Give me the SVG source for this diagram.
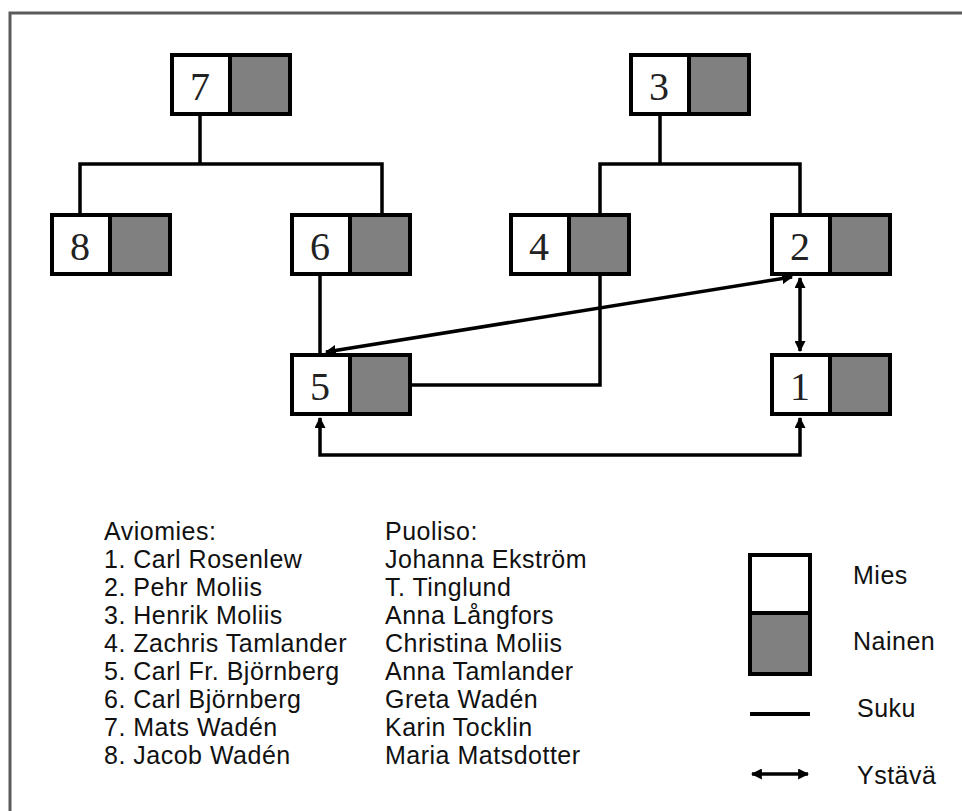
<svg xmlns="http://www.w3.org/2000/svg" width="962" height="811" viewBox="0 0 962 811">
<style>
.frame{fill:none;stroke:#5a5a5a;stroke-width:3}
.m{fill:#fff}
.f{fill:#808080}
.out{fill:none;stroke:#000;stroke-width:4}
.num{font-family:"Liberation Serif","Times New Roman",serif;font-size:40px;fill:#222;text-anchor:middle}
.kin{fill:none;stroke:#000;stroke-width:3.5}
.fr{fill:none;stroke:#000;stroke-width:3.5;marker-start:url(#ah);marker-end:url(#ah)}
.t{font-family:"Liberation Sans",Arial,sans-serif;font-size:25px;letter-spacing:0.5px;fill:#111}
</style>
<defs>
<marker id="ah" viewBox="0 0 10 10" refX="9" refY="5" markerWidth="11" markerHeight="11" markerUnits="userSpaceOnUse" orient="auto-start-reverse">
<path d="M0 0 L10 5 L0 10 Z" fill="#000"/>
</marker>
<g id="node">
<rect class="m" x="2" y="2" width="58" height="59"/>
<rect class="f" x="60" y="2" width="60" height="59"/>
<rect class="out" x="2" y="2" width="118" height="59"/>
<line x1="60" y1="2" x2="60" y2="61" stroke="#000" stroke-width="4"/>
</g>
</defs>
<rect width="962" height="811" fill="#fff"/>
<rect class="frame" x="10" y="13" width="1000" height="1000"/>

<g id="connectors">
<path class="kin" d="M200 116 V164 M80 213 V164 H382 V213"/>
<path class="kin" d="M660 116 V164 M600 213 V164 H800 V213"/>
<path class="kin" d="M320 276 V353"/>
<path class="kin" d="M600 276 V385 H412"/>
<path class="fr" d="M800 278 V351"/>
<path class="fr" d="M320 418 V455 H800 V418"/>
<path class="fr" d="M326 352 L792 277"/>
</g>

<g id="n7"><use href="#node" x="170" y="53"/><text class="num" x="200" y="100">7</text></g>
<g id="n3"><use href="#node" x="629" y="53"/><text class="num" x="659" y="100">3</text></g>
<g id="n8"><use href="#node" x="50" y="213"/><text class="num" x="80" y="260">8</text></g>
<g id="n6"><use href="#node" x="290" y="213"/><text class="num" x="320" y="260">6</text></g>
<g id="n4"><use href="#node" x="509" y="213"/><text class="num" x="539" y="260">4</text></g>
<g id="n2"><use href="#node" x="770" y="213"/><text class="num" x="800" y="260">2</text></g>
<g id="n5"><use href="#node" x="290" y="353"/><text class="num" x="320" y="400">5</text></g>
<g id="n1"><use href="#node" x="770" y="353"/><text class="num" x="800" y="400">1</text></g>

<g id="names">
<text class="t" x="104" y="540">Aviomies:</text>
<text class="t" x="104" y="568">1. Carl Rosenlew</text>
<text class="t" x="104" y="596">2. Pehr Moliis</text>
<text class="t" x="104" y="624">3. Henrik Moliis</text>
<text class="t" x="104" y="652">4. Zachris Tamlander</text>
<text class="t" x="104" y="680">5. Carl Fr. Björnberg</text>
<text class="t" x="104" y="708">6. Carl Björnberg</text>
<text class="t" x="104" y="736">7. Mats Wadén</text>
<text class="t" x="104" y="764">8. Jacob Wadén</text>
<text class="t" x="385" y="540">Puoliso:</text>
<text class="t" x="385" y="568">Johanna Ekström</text>
<text class="t" x="385" y="596">T. Tinglund</text>
<text class="t" x="385" y="624">Anna Långfors</text>
<text class="t" x="385" y="652">Christina Moliis</text>
<text class="t" x="385" y="680">Anna Tamlander</text>
<text class="t" x="385" y="708">Greta Wadén</text>
<text class="t" x="385" y="736">Karin Tocklin</text>
<text class="t" x="385" y="764">Maria Matsdotter</text>
</g>

<g id="legend">
<rect class="m" x="750" y="555" width="60" height="58"/>
<rect class="f" x="750" y="613" width="60" height="61"/>
<rect class="out" x="750" y="555" width="60" height="119"/>
<line x1="750" y1="613" x2="810" y2="613" stroke="#000" stroke-width="4"/>
<text class="t" x="853" y="584">Mies</text>
<text class="t" x="853" y="650">Nainen</text>
<line x1="750" y1="714" x2="810" y2="714" stroke="#000" stroke-width="4"/>
<text class="t" x="857" y="717">Suku</text>
<path class="fr" d="M752 774 H808" stroke-width="5"/>
<text class="t" x="857" y="784">Ystävä</text>
</g>
</svg>
